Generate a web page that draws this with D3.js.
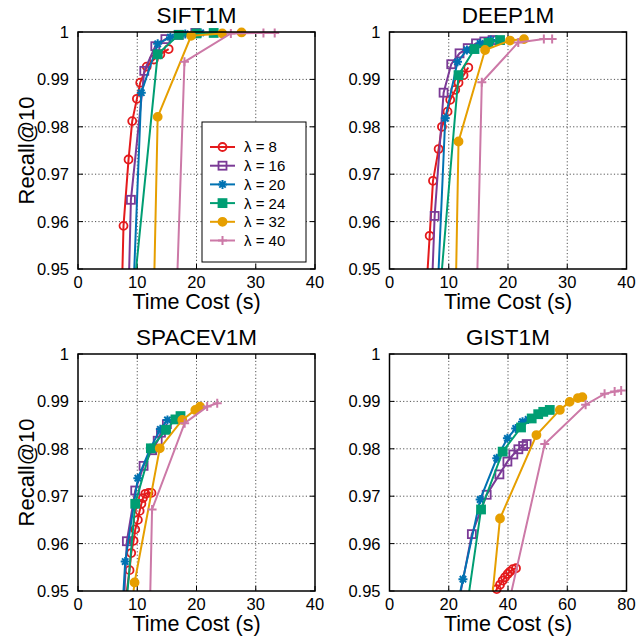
<!DOCTYPE html>
<html>
<head>
<meta charset="utf-8">
<script src="https://cdn.jsdelivr.net/npm/d3@7"></script>
<style>
  body { margin: 0; background: #fff; }
  svg { display: block; font-family: "Liberation Sans", Arial, sans-serif; }
</style>
</head>
<body>
<svg width="636" height="639"></svg>
<script>
// lambda values, one series each
var lambdas = [8, 16, 20, 24, 32, 40];

// [time (s), recall@10] pairs, series in lambda order
var siftSeries = [
  [[7.3, 0.94], [7.68, 0.9591], [8.53, 0.9731], [9.15, 0.9812], [9.94, 0.9859], [10.5, 0.9893], [11.6, 0.9927], [12.8, 0.9942], [13.9, 0.9953], [15.3, 0.9964]],
  [[8.44, 0.94], [8.93, 0.9646], [11.19, 0.9918], [13.05, 0.997], [14.75, 0.9985], [17.0, 0.9994], [19.8, 0.9998]],
  [[9.18, 0.94], [10.68, 0.9872], [13.45, 0.9975], [15.6, 0.9989], [18.1, 0.9996], [20.7, 0.9998]],
  [[9.0, 0.94], [13.45, 0.9953], [17.0, 0.9994], [20.0, 0.9997], [22.9, 0.9998]],
  [[12.73, 0.94], [13.45, 0.9821], [19.1, 0.9992], [24.35, 0.9997], [27.6, 0.9999]],
  [[16.53, 0.94], [17.97, 0.9937], [25.8, 0.9997], [31.3, 0.9998], [33.2, 0.9998]]
];
var deepSeries = [
  [[5.95, 0.94], [6.78, 0.957], [7.34, 0.9686], [8.29, 0.9753], [8.85, 0.98], [9.8, 0.9832], [10.25, 0.9857], [11.1, 0.9878], [11.65, 0.9893], [12.5, 0.9909], [13.3, 0.9925]],
  [[6.98, 0.94], [7.62, 0.9612], [9.13, 0.9872], [10.42, 0.9932], [11.82, 0.9955], [13.2, 0.9966], [14.6, 0.9976], [16.0, 0.998], [17.4, 0.9983]],
  [[7.94, 0.94], [9.41, 0.9818], [11.48, 0.9937], [13.06, 0.9962], [15.3, 0.9976], [17.1, 0.9983]],
  [[8.17, 0.94], [11.65, 0.9909], [14.34, 0.9964], [16.7, 0.9977], [18.66, 0.9983]],
  [[11.11, 0.94], [11.65, 0.9769], [16.13, 0.9962], [20.34, 0.9982], [22.7, 0.9985]],
  [[14.65, 0.94], [15.58, 0.9894], [21.73, 0.9978], [26.05, 0.9985], [27.45, 0.9985]]
];
var spacevSeries = [
  [[7.23, 0.94], [8.7, 0.9544], [8.98, 0.958], [9.38, 0.9606], [9.66, 0.963], [10.1, 0.965], [10.4, 0.9669], [10.7, 0.9684], [10.96, 0.9696], [11.36, 0.9705], [11.9, 0.9707], [12.4, 0.9707]],
  [[7.47, 0.94], [8.25, 0.9605], [9.66, 0.9712], [11.07, 0.9764], [12.5, 0.9797], [13.45, 0.9817], [14.0, 0.9834], [15.0, 0.9852]],
  [[7.21, 0.94], [7.97, 0.9562], [10.1, 0.9738], [12.2, 0.9801], [13.9, 0.9841], [15.1, 0.9861]],
  [[7.65, 0.94], [9.66, 0.9684], [12.3, 0.9801], [14.86, 0.984], [16.44, 0.9862], [17.3, 0.9869]],
  [[8.43, 0.94], [9.55, 0.9518], [13.8, 0.9801], [17.6, 0.9861], [19.8, 0.9882], [20.6, 0.9889]],
  [[12.03, 0.94], [12.5, 0.9672], [18.0, 0.9854], [21.8, 0.9889], [23.5, 0.9896]]
];
var gistSeries = [
  [[33.0, 0.945], [36.2, 0.9504], [37.3, 0.9513], [38.2, 0.9522], [39.0, 0.9529], [39.9, 0.9536], [40.7, 0.9541], [41.6, 0.9546], [42.7, 0.9548]],
  [[21.0, 0.94], [27.8, 0.962], [32.8, 0.9703], [37.1, 0.9746], [39.8, 0.9773], [41.8, 0.9788], [43.5, 0.9799], [45.1, 0.9806], [46.3, 0.981]],
  [[20.5, 0.94], [24.8, 0.9525], [30.6, 0.9693], [36.2, 0.978], [39.8, 0.9822], [42.6, 0.9843], [44.9, 0.9857], [46.8, 0.9862]],
  [[24.6, 0.94], [30.9, 0.9672], [38.2, 0.9794], [44.4, 0.9845], [48.0, 0.9864], [50.2, 0.9873], [51.9, 0.9878], [54.1, 0.9882]],
  [[33.3, 0.94], [37.3, 0.9653], [49.6, 0.9829], [57.5, 0.9882], [60.8, 0.9899], [63.6, 0.9907], [65.1, 0.9909]],
  [[37.6, 0.94], [52.4, 0.981], [66.2, 0.9893], [72.6, 0.9916], [76.0, 0.9921], [78.2, 0.9923]]
];

var yTicks = [0.95, 0.96, 0.97, 0.98, 0.99, 1];
var xTicksSmall = [0, 10, 20, 30, 40];
var xTicksGist = [0, 20, 40, 60, 80];

var colors = ["#e41a1c", "#7b3a96", "#0072b2", "#009e73", "#e69f00", "#cc79a7"];
var shapes = ["ocircle", "osquare", "star", "square", "circle", "plus"];

var svg = d3.select("svg");
var W = 237, H = 237;

var panels = [
  { name: "SIFT1M", data: siftSeries, ticks: xTicksSmall, x: 78, y: 32, legend: true, ylabel: true },
  { name: "DEEP1M", data: deepSeries, ticks: xTicksSmall, x: 389.5, y: 32 },
  { name: "SPACEV1M", data: spacevSeries, ticks: xTicksSmall, x: 78, y: 354, ylabel: true },
  { name: "GIST1M", data: gistSeries, ticks: xTicksGist, x: 389.5, y: 354 }
];

function marker(sel, shape, color) {
  if (shape === "ocircle" || shape === "circle") {
    sel.append("circle").attr("r", 4)
      .attr("fill", shape === "circle" ? color : "none")
      .attr("stroke", color).attr("stroke-width", 1.8);
  } else if (shape === "osquare" || shape === "square") {
    sel.append("rect").attr("x", -4).attr("y", -4).attr("width", 8).attr("height", 8)
      .attr("fill", shape === "square" ? color : "none")
      .attr("stroke", color).attr("stroke-width", 1.8);
  } else {
    var d = shape === "star" ? "M-4.5,0H4.5M0,-4.5V4.5M-3.2,-3.2L3.2,3.2M-3.2,3.2L3.2,-3.2" : "M-4.5,0H4.5M0,-4.5V4.5";
    sel.append("path").attr("d", d).attr("fill", "none")
      .attr("stroke", color).attr("stroke-width", 2);
  }
}

panels.forEach(function(p, pi) {
  var xMax = p.ticks[p.ticks.length - 1];
  var x = d3.scaleLinear().domain([0, xMax]).range([0, W]);
  var y = d3.scaleLinear().domain([0.95, 1]).range([H, 0]);
  var g = svg.append("g").attr("transform", "translate(" + p.x + "," + p.y + ")");

  g.append("clipPath").attr("id", "clip" + pi)
    .append("rect").attr("width", W).attr("height", H);

  // dotted grid
  g.selectAll(".gx").data(p.ticks.slice(1, -1)).enter().append("line")
    .attr("x1", x).attr("x2", x).attr("y1", 0).attr("y2", H)
    .attr("stroke", "#555").attr("stroke-width", 1).attr("stroke-dasharray", "1.2,2.2");
  g.selectAll(".gy").data(yTicks.slice(1, -1)).enter().append("line")
    .attr("y1", y).attr("y2", y).attr("x1", 0).attr("x2", W)
    .attr("stroke", "#555").attr("stroke-width", 1).attr("stroke-dasharray", "1.2,2.2");

  // inward ticks on all four sides
  var tk = 5;
  p.ticks.forEach(function(t) {
    g.append("line").attr("x1", x(t)).attr("x2", x(t)).attr("y1", H).attr("y2", H - tk).attr("stroke", "#000");
    g.append("line").attr("x1", x(t)).attr("x2", x(t)).attr("y1", 0).attr("y2", tk).attr("stroke", "#000");
  });
  yTicks.forEach(function(t) {
    g.append("line").attr("y1", y(t)).attr("y2", y(t)).attr("x1", 0).attr("x2", tk).attr("stroke", "#000");
    g.append("line").attr("y1", y(t)).attr("y2", y(t)).attr("x1", W).attr("x2", W - tk).attr("stroke", "#000");
  });

  // tick labels
  g.selectAll(".xl").data(p.ticks).enter().append("text")
    .attr("x", x).attr("y", H + 18.5).attr("text-anchor", "middle")
    .attr("font-size", 16.5).text(function(d) { return d; });
  g.selectAll(".yl").data(yTicks).enter().append("text")
    .attr("x", -9).attr("y", y).attr("dy", "0.36em").attr("text-anchor", "end")
    .attr("font-size", 16.5).text(function(d) { return d === 1 ? "1" : d.toFixed(2); });

  // titles and axis labels
  g.append("text").attr("x", W / 2).attr("y", -9).attr("text-anchor", "middle")
    .attr("font-size", 22.5).text(p.name);
  g.append("text").attr("x", W / 2).attr("y", H + 39.5).attr("text-anchor", "middle")
    .attr("font-size", 21.5).text("Time Cost (s)");
  if (p.ylabel) {
    g.append("text").attr("transform", "translate(" + (34 - p.x) + "," + (H / 2) + ") rotate(-90)")
      .attr("text-anchor", "middle").attr("font-size", 22).text("Recall@10");
  }

  // series
  var line = d3.line().x(function(d) { return x(d[0]); }).y(function(d) { return y(d[1]); });
  p.data.forEach(function(s, si) {
    g.append("path").datum(s).attr("d", line)
      .attr("clip-path", "url(#clip" + pi + ")")
      .attr("fill", "none").attr("stroke", colors[si]).attr("stroke-width", 2);
    s.filter(function(d) { return d[1] >= 0.95 && d[0] <= xMax; }).forEach(function(d) {
      var m = g.append("g").attr("transform", "translate(" + x(d[0]) + "," + y(d[1]) + ")");
      marker(m, shapes[si], colors[si]);
    });
  });

  // frame
  g.append("rect").attr("width", W).attr("height", H)
    .attr("fill", "none").attr("stroke", "#000").attr("stroke-width", 1.5);

  if (p.legend) {
    var lg = g.append("g").attr("transform", "translate(124,90)");
    lg.append("rect").attr("width", 104).attr("height", 140)
      .attr("fill", "#fff").attr("stroke", "#000").attr("stroke-width", 1);
    lambdas.forEach(function(l, i) {
      var row = lg.append("g").attr("transform", "translate(0," + (25 + i * 18.7) + ")");
      row.append("line").attr("x1", 8).attr("x2", 33)
        .attr("stroke", colors[i]).attr("stroke-width", 2);
      marker(row.append("g").attr("transform", "translate(20.5,0)"), shapes[i], colors[i]);
      row.append("text").attr("x", 42).attr("dy", "0.36em").attr("font-size", 15)
        .text("\u03bb = " + l);
    });
  }
});
</script>
</body>
</html>
